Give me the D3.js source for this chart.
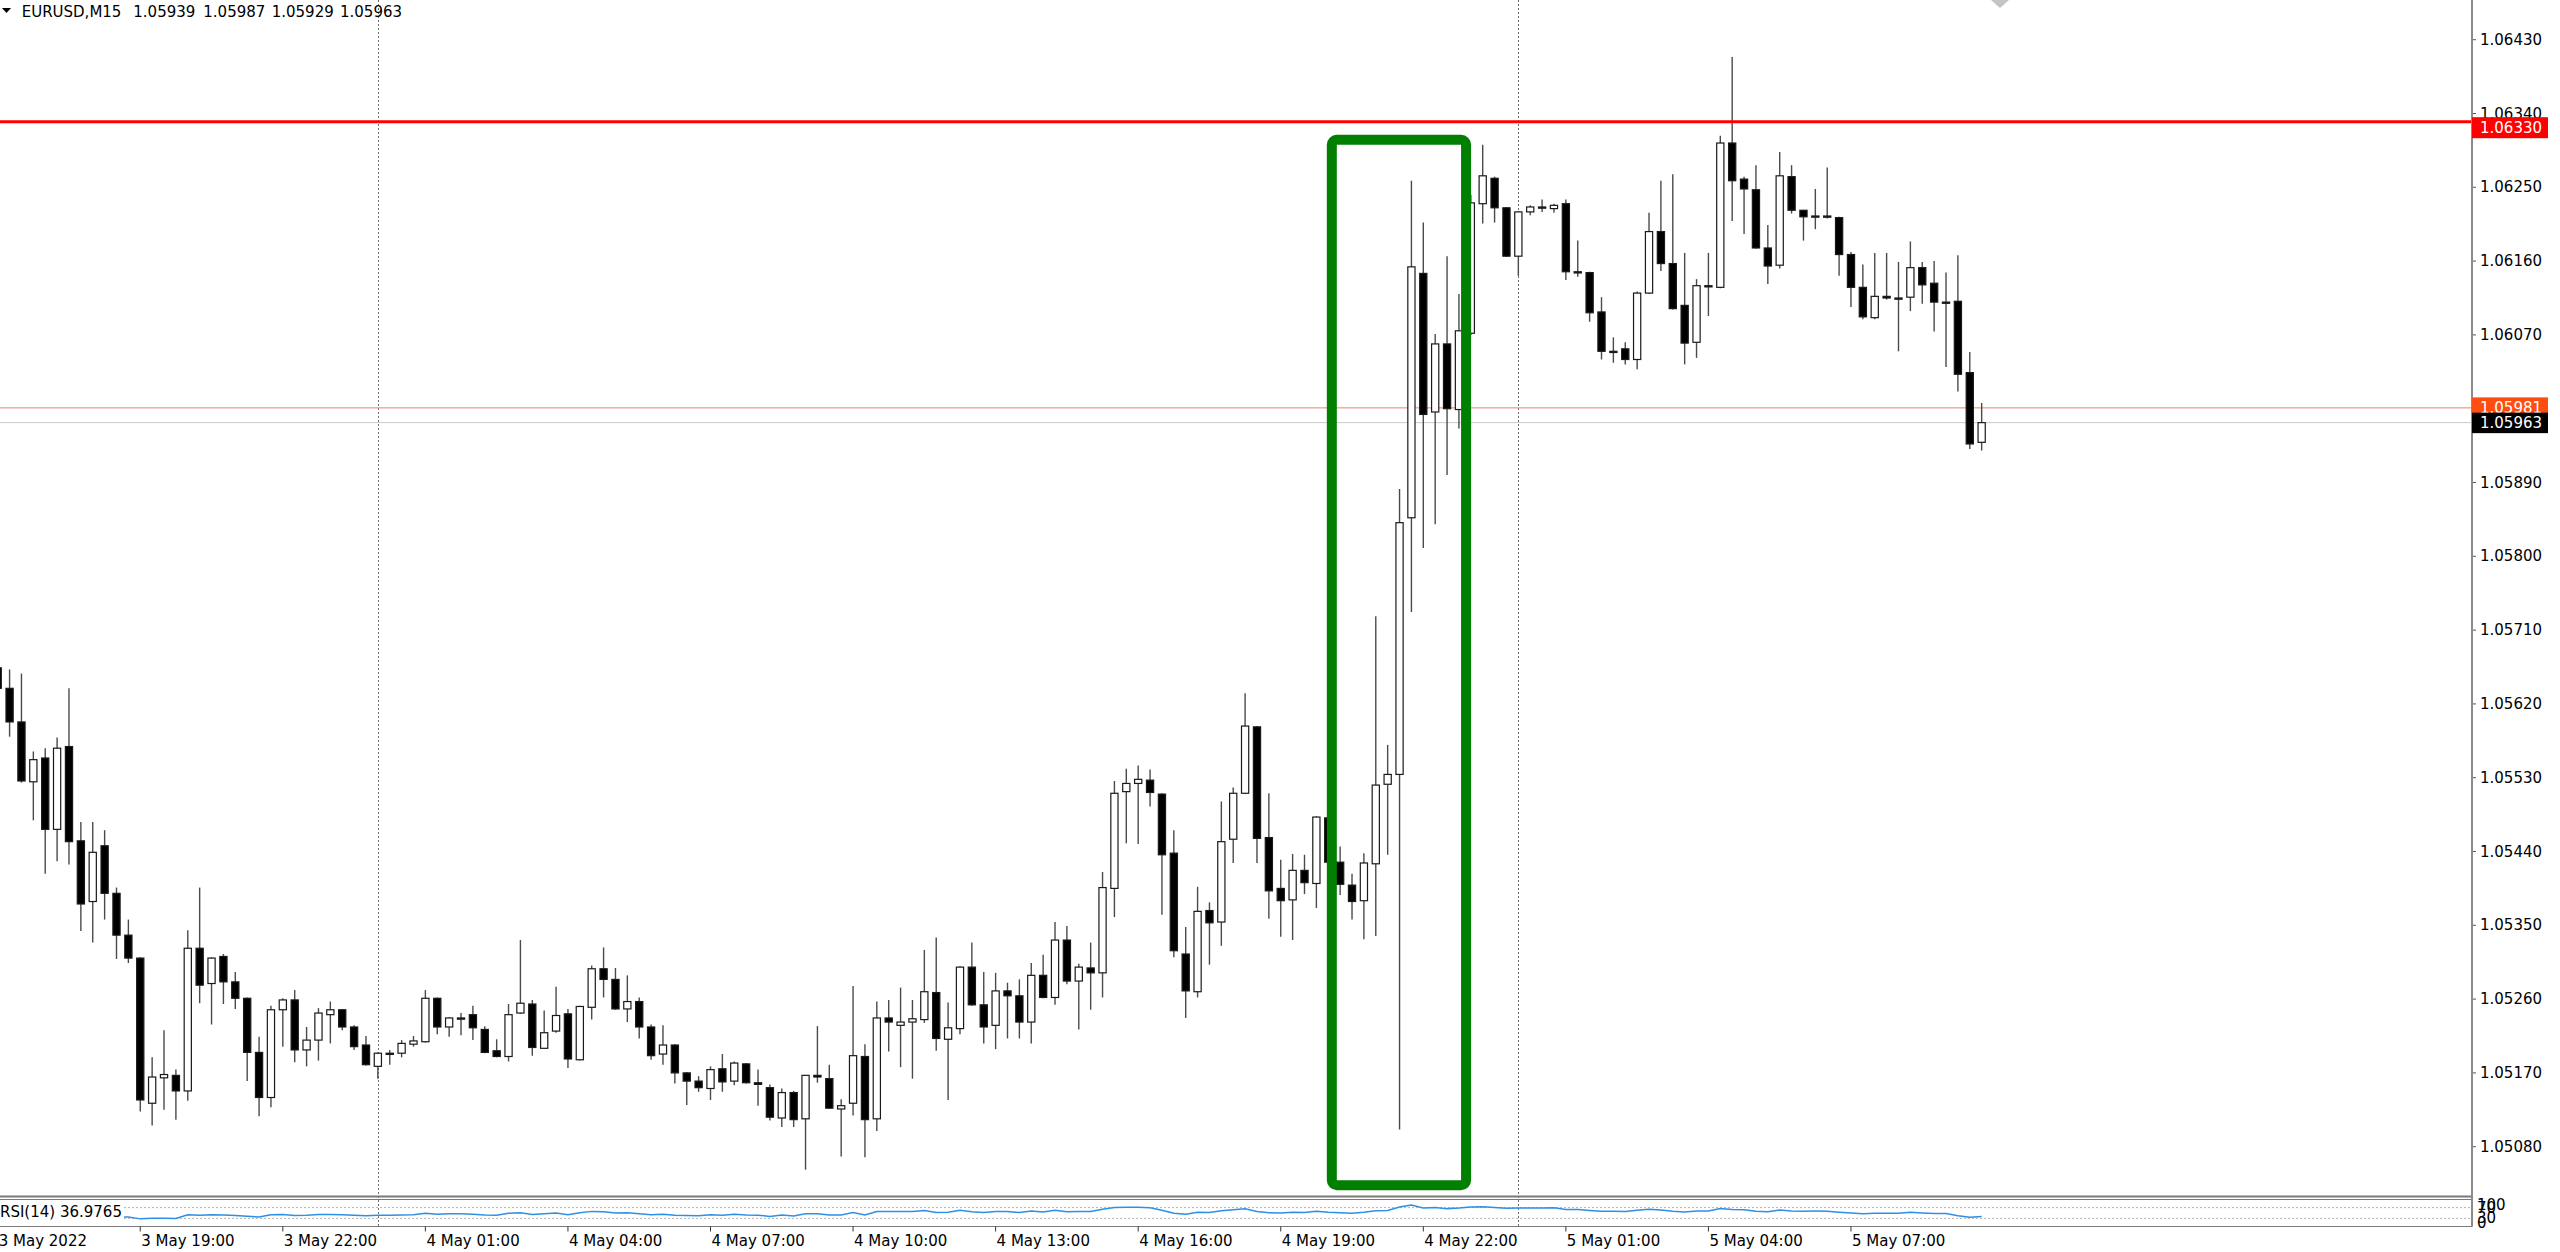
<!DOCTYPE html>
<html><head><meta charset="utf-8">
<script src="https://cdn.jsdelivr.net/npm/d3@7"></script>
<style>html,body{margin:0;padding:0;background:#fff;overflow:hidden}svg{display:block}</style>
</head><body>
<svg id="chart" width="2560" height="1252"></svg>
<script>
// ---------------- DATA (EURUSD M15, 3 May 16:00 -> 5 May 09:45) ----------------
const symbolTitle = "EURUSD,M15";
const lastBarValues = ["1.05939", "1.05987", "1.05929", "1.05963"];
const opens = [
1.05664,1.05639,1.05598,1.05525,1.05554,1.05467,1.05568,1.05453,1.05379,1.05447,
1.05389,1.05338,1.05310,1.05133,1.05164,1.05167,1.05148,1.05322,1.05279,1.05312,
1.05281,1.05261,1.05195,1.05140,1.05247,1.05259,1.05198,1.05210,1.05241,1.05247,
1.05226,1.05204,1.05178,1.05193,1.05194,1.05205,1.05208,1.05261,1.05226,1.05237,
1.05241,1.05223,1.05197,1.05190,1.05243,1.05254,1.05200,1.05221,1.05242,1.05186,
1.05250,1.05297,1.05284,1.05248,1.05257,1.05226,1.05193,1.05204,1.05170,1.05160,
1.05151,1.05175,1.05160,1.05181,1.05158,1.05152,1.05115,1.05146,1.05114,1.05167,
1.05163,1.05126,1.05133,1.05190,1.05114,1.05237,1.05228,1.05232,1.05235,1.05268,
1.05211,1.05224,1.05299,1.05253,1.05228,1.05270,1.05264,1.05232,1.05289,1.05262,
1.05332,1.05282,1.05298,1.05292,1.05395,1.05513,1.05523,1.05527,1.05510,1.05438,
1.05315,1.05269,1.05368,1.05354,1.05455,1.05511,1.05592,1.05457,1.05395,1.05381,
1.05417,1.05401,1.05481,1.05427,1.05399,1.05380,1.05425,1.05522,1.05534,1.05847,
1.06145,1.05976,1.06059,1.05979,1.06072,1.06230,1.06261,1.06225,1.06166,1.06220,
1.06226,1.06224,1.06230,1.06147,1.06146,1.06098,1.06050,1.06053,1.06040,1.06121,
1.06196,1.06157,1.06106,1.06061,1.06130,1.06128,1.06304,1.06260,1.06247,1.06176,
1.06155,1.06263,1.06222,1.06214,1.06215,1.06213,1.06168,1.06128,1.06091,1.06117,
1.06115,1.06116,1.06152,1.06133,1.06110,1.06111,1.06024,1.05939];
const highs = [
1.05666,1.05662,1.05657,1.05562,1.05566,1.05579,1.05639,1.05476,1.05476,1.05466,
1.05396,1.05357,1.05311,1.05189,1.05222,1.05174,1.05344,1.05396,1.05311,1.05315,
1.05293,1.05262,1.05214,1.05252,1.05261,1.05271,1.05226,1.05249,1.05257,1.05248,
1.05228,1.05215,1.05195,1.05198,1.05210,1.05215,1.05271,1.05262,1.05238,1.05243,
1.05252,1.05227,1.05211,1.05254,1.05332,1.05259,1.05246,1.05275,1.05248,1.05252,
1.05301,1.05323,1.05298,1.05289,1.05262,1.05229,1.05228,1.05205,1.05171,1.05166,
1.05178,1.05193,1.05184,1.05182,1.05174,1.05156,1.05151,1.05148,1.05167,1.05227,
1.05180,1.05138,1.05276,1.05205,1.05257,1.05259,1.05274,1.05259,1.05320,1.05335,
1.05256,1.05300,1.05329,1.05293,1.05292,1.05280,1.05284,1.05304,1.05314,1.05354,
1.05349,1.05303,1.05329,1.05415,1.05526,1.05541,1.05545,1.05540,1.05511,1.05466,
1.05348,1.05397,1.05378,1.05501,1.05518,1.05633,1.05593,1.05511,1.05430,1.05437,
1.05436,1.05483,1.05484,1.05446,1.05413,1.05438,1.05727,1.05570,1.05882,1.06258,
1.06207,1.06071,1.06166,1.06120,1.06241,1.06302,1.06263,1.06226,1.06221,1.06228,
1.06235,1.06230,1.06235,1.06185,1.06147,1.06116,1.06067,1.06061,1.06123,1.06219,
1.06258,1.06266,1.06170,1.06138,1.06170,1.06313,1.06409,1.06263,1.06277,1.06204,
1.06293,1.06277,1.06222,1.06248,1.06274,1.06214,1.06171,1.06156,1.06170,1.06170,
1.06159,1.06184,1.06159,1.06160,1.06146,1.06167,1.06049,1.05987];
const lows = [
1.05637,1.05580,1.05524,1.05478,1.05413,1.05428,1.05424,1.05343,1.05329,1.05357,
1.05309,1.05304,1.05123,1.05106,1.05125,1.05113,1.05136,1.05255,1.05229,1.05254,
1.05248,1.05160,1.05117,1.05128,1.05202,1.05183,1.05178,1.05185,1.05206,1.05222,
1.05198,1.05179,1.05163,1.05180,1.05189,1.05202,1.05207,1.05217,1.05214,1.05216,
1.05210,1.05194,1.05189,1.05184,1.05242,1.05191,1.05199,1.05219,1.05176,1.05185,
1.05235,1.05262,1.05247,1.05232,1.05212,1.05186,1.05180,1.05157,1.05131,1.05147,
1.05137,1.05147,1.05155,1.05157,1.05130,1.05112,1.05104,1.05104,1.05052,1.05158,
1.05126,1.05068,1.05118,1.05067,1.05099,1.05196,1.05177,1.05163,1.05231,1.05197,
1.05137,1.05217,1.05252,1.05206,1.05199,1.05212,1.05212,1.05206,1.05261,1.05253,
1.05278,1.05223,1.05247,1.05262,1.05360,1.05450,1.05449,1.05495,1.05363,1.05311,
1.05237,1.05262,1.05302,1.05325,1.05426,1.05510,1.05426,1.05358,1.05336,1.05332,
1.05388,1.05371,1.05417,1.05387,1.05357,1.05333,1.05337,1.05436,1.05101,1.05732,
1.05810,1.05839,1.05899,1.05956,1.06070,1.06206,1.06207,1.06165,1.06142,1.06216,
1.06220,1.06219,1.06137,1.06141,1.06086,1.06040,1.06036,1.06034,1.06028,1.06120,
1.06148,1.06101,1.06034,1.06042,1.06093,1.06127,1.06209,1.06193,1.06175,1.06132,
1.06151,1.06218,1.06185,1.06199,1.06212,1.06142,1.06104,1.06089,1.06089,1.06113,
1.06050,1.06099,1.06108,1.06074,1.06031,1.06001,1.05931,1.05929];
const closes = [
1.05639,1.05598,1.05526,1.05552,1.05467,1.05566,1.05452,1.05376,1.05439,1.05389,
1.05338,1.05310,1.05137,1.05165,1.05168,1.05148,1.05322,1.05277,1.05310,1.05281,
1.05261,1.05195,1.05140,1.05247,1.05259,1.05198,1.05210,1.05243,1.05247,1.05226,
1.05202,1.05180,1.05194,1.05194,1.05206,1.05209,1.05261,1.05226,1.05237,1.05237,
1.05225,1.05195,1.05190,1.05241,1.05255,1.05201,1.05219,1.05240,1.05187,1.05251,
1.05297,1.05284,1.05248,1.05257,1.05226,1.05191,1.05204,1.05170,1.05160,1.05152,
1.05174,1.05159,1.05182,1.05158,1.05156,1.05116,1.05146,1.05113,1.05167,1.05165,
1.05127,1.05130,1.05191,1.05113,1.05237,1.05232,1.05232,1.05236,1.05269,1.05212,
1.05225,1.05299,1.05253,1.05226,1.05270,1.05264,1.05232,1.05289,1.05262,1.05332,
1.05282,1.05299,1.05292,1.05396,1.05511,1.05523,1.05528,1.05512,1.05436,1.05319,
1.05270,1.05367,1.05353,1.05452,1.05511,1.05593,1.05456,1.05392,1.05380,1.05417,
1.05402,1.05482,1.05427,1.05400,1.05379,1.05426,1.05521,1.05534,1.05841,1.06153,
1.05973,1.06059,1.05980,1.06075,1.06231,1.06264,1.06225,1.06166,1.06220,1.06226,
1.06226,1.06228,1.06147,1.06146,1.06097,1.06050,1.06049,1.06040,1.06121,1.06196,
1.06157,1.06102,1.06060,1.06130,1.06129,1.06304,1.06258,1.06248,1.06176,1.06154,
1.06264,1.06222,1.06214,1.06215,1.06214,1.06168,1.06128,1.06092,1.06117,1.06115,
1.06115,1.06152,1.06131,1.06110,1.06110,1.06022,1.05937,1.05963];

// time axis: label text and the bar each label belongs to
const timeTickBars   = [0, 12, 24, 36, 48, 60, 72, 84, 96, 108, 120, 132, 144, 156];
const timeTickLabels = ["3 May 2022","3 May 19:00","3 May 22:00","4 May 01:00","4 May 04:00",
  "4 May 07:00","4 May 10:00","4 May 13:00","4 May 16:00","4 May 19:00","4 May 22:00",
  "5 May 01:00","5 May 04:00","5 May 07:00"];
const daySeparatorBars = [32, 128];          // 4 May 00:00, 5 May 00:00
const priceTicks = d3.range(0, 16).map(k => +(1.05080 + k * 0.0009).toFixed(5));
const resistanceLevel = 1.06330;             // red horizontal line
const askLevel = 1.05981;                    // orange ask line
const bidLevel = 1.05963;                    // grey bid line
const rsiPeriod = 14;
const rsiLabel = "RSI(14) 36.9765";
const rsiLevels = [30, 70];
const greenBox = {barFrom: 112.3, barTo: 123.6, priceTop: 1.06308, priceBottom: 1.05033};

// ---------------- LAYOUT ----------------
const plotRight = 2472, mainBottom = 1196, rsiTop = 1199.5, rsiBottom = 1226.5;
const font = '"DejaVu Sans", Verdana, "Liberation Sans", sans-serif';
const svg = d3.select('#chart');
svg.append('rect').attr('width', 2560).attr('height', 1252).attr('fill', '#fff');

const x = d3.scaleLinear().domain([0, 167]).range([-2.3, -2.3 + 167 * 11.88]);
const y = d3.scaleLinear().domain([1.05080, 1.06430]).range([1146.7, 39.7]);
const yR = d3.scaleLinear().domain([0, 100]).range([rsiBottom, rsiTop]);

const defs = svg.append('defs');
defs.append('clipPath').attr('id', 'mainClip').append('rect')
  .attr('x', 0).attr('y', 0).attr('width', plotRight).attr('height', mainBottom);
defs.append('clipPath').attr('id', 'rsiClip').append('rect')
  .attr('x', 0).attr('y', rsiTop).attr('width', plotRight).attr('height', rsiBottom - rsiTop);

// day separators (dotted, through both panes)
svg.append('g').selectAll('line').data(daySeparatorBars).join('line')
  .attr('x1', d => Math.round(x(d)) + 0.5).attr('x2', d => Math.round(x(d)) + 0.5)
  .attr('y1', 0).attr('y2', rsiBottom)
  .attr('stroke', '#6e6e6e').attr('stroke-width', 1).attr('stroke-dasharray', '2,2');

const main = svg.append('g').attr('clip-path', 'url(#mainClip)');

// ask / bid lines (behind candles)
main.append('line').attr('x1', 0).attr('x2', plotRight)
  .attr('y1', y(askLevel)).attr('y2', y(askLevel)).attr('stroke', '#e9865a').attr('stroke-width', 1);
main.append('line').attr('x1', 0).attr('x2', plotRight)
  .attr('y1', y(bidLevel)).attr('y2', y(bidLevel)).attr('stroke', '#c8c8c8').attr('stroke-width', 1);

// candles
const idx = d3.range(closes.length);
main.append('g').selectAll('line').data(idx).join('line')
  .attr('x1', i => x(i)).attr('x2', i => x(i))
  .attr('y1', i => y(highs[i])).attr('y2', i => y(lows[i]))
  .attr('stroke', '#4a4a4a').attr('stroke-width', 1.4);
main.append('g').selectAll('rect').data(idx).join('rect')
  .attr('x', i => x(i) - 3.6).attr('width', 7.2)
  .attr('y', i => y(Math.max(opens[i], closes[i])))
  .attr('height', i => Math.max(1.2, Math.abs(y(opens[i]) - y(closes[i]))))
  .attr('fill', i => closes[i] > opens[i] ? '#ffffff' : '#000000')
  .attr('stroke', '#1a1a1a').attr('stroke-width', 1.2);

// resistance line
main.append('line').attr('x1', 0).attr('x2', plotRight)
  .attr('y1', y(resistanceLevel)).attr('y2', y(resistanceLevel))
  .attr('stroke', '#ff0000').attr('stroke-width', 3);

// green highlight box
svg.append('rect')
  .attr('x', x(greenBox.barFrom)).attr('y', y(greenBox.priceTop))
  .attr('width', x(greenBox.barTo) - x(greenBox.barFrom))
  .attr('height', y(greenBox.priceBottom) - y(greenBox.priceTop))
  .attr('rx', 5).attr('fill', 'none').attr('stroke', '#007f00').attr('stroke-width', 10);

// pane frames
svg.append('line').attr('x1', 0).attr('x2', plotRight).attr('y1', mainBottom + 0.5).attr('y2', mainBottom + 0.5)
  .attr('stroke', '#7a7a7a').attr('stroke-width', 2);
svg.append('rect').attr('x', -1).attr('y', rsiTop).attr('width', plotRight + 1).attr('height', rsiBottom - rsiTop)
  .attr('fill', 'none').attr('stroke', '#7a7a7a').attr('stroke-width', 1);
svg.append('line').attr('x1', plotRight).attr('x2', plotRight).attr('y1', 0).attr('y2', rsiBottom)
  .attr('stroke', '#8a8a8a').attr('stroke-width', 2);

// RSI (Wilder) computed from closes
const changes = idx.slice(1).map(i => closes[i] - closes[i - 1]);
const seed = d3.mean(changes.map(Math.abs)) / 2;
let ag = seed, al = seed;
const rsiVals = [{i: 0, v: 50}];
changes.forEach((ch, k) => {
  ag = (ag * (rsiPeriod - 1) + Math.max(ch, 0)) / rsiPeriod;
  al = (al * (rsiPeriod - 1) + Math.max(-ch, 0)) / rsiPeriod;
  rsiVals.push({i: k + 1, v: al === 0 ? 100 : 100 - 100 / (1 + ag / al)});
});
const rsiG = svg.append('g').attr('clip-path', 'url(#rsiClip)');
rsiG.selectAll('line.lvl').data(rsiLevels).join('line')
  .attr('x1', 0).attr('x2', plotRight).attr('y1', d => yR(d)).attr('y2', d => yR(d))
  .attr('stroke', '#b4b4b4').attr('stroke-width', 1).attr('stroke-dasharray', '2,2');
rsiG.append('path').datum(rsiVals)
  .attr('d', d3.line().x(d => x(d.i)).y(d => yR(d.v)))
  .attr('fill', 'none').attr('stroke', '#2e8fe6').attr('stroke-width', 1.5);
const rsiText = svg.append('text').attr('x', 0).attr('y', 1212)
  .attr('font-family', font).attr('font-size', 15).attr('dominant-baseline', 'central')
  .attr('fill', '#000').text(rsiLabel);
const rb = rsiText.node().getBBox();
svg.insert('rect', () => rsiText.node()).attr('x', 0).attr('y', rsiTop + 1).attr('width', rb.width + 2)
  .attr('height', rsiBottom - rsiTop - 2).attr('fill', '#fff');
// RSI scale labels
[[100, 'hanging', rsiTop - 1], [70, 'central', yR(70)], [30, 'central', yR(30)], [0, 'auto', rsiBottom + 1]]
  .forEach(([v, base, yy]) => {
    svg.append('text').attr('x', 2477).attr('y', yy).attr('dominant-baseline', base)
      .attr('font-family', font).attr('font-size', 15).attr('fill', '#000').text(v);
  });

// price axis ticks + labels
const pa = svg.append('g');
pa.selectAll('line').data(priceTicks).join('line')
  .attr('x1', plotRight + 1).attr('x2', plotRight + 4).attr('y1', d => y(d)).attr('y2', d => y(d))
  .attr('stroke', '#555').attr('stroke-width', 1);
pa.selectAll('text').data(priceTicks).join('text')
  .attr('x', 2480).attr('y', d => y(d)).attr('dominant-baseline', 'central')
  .attr('font-family', font).attr('font-size', 15).attr('fill', '#000')
  .text(d => d.toFixed(5));

// price tags
function tag(level, top, h, fill, text) {
  svg.append('rect').attr('x', plotRight).attr('y', top).attr('width', 76).attr('height', h).attr('fill', fill);
  svg.append('text').attr('x', 2480).attr('y', top + h / 2 + 0.5).attr('dominant-baseline', 'central')
    .attr('font-family', font).attr('font-size', 15).attr('fill', '#fff').text(text);
}
tag(resistanceLevel, y(resistanceLevel) - 4.5, 21, '#ff0000', resistanceLevel.toFixed(5));
tag(askLevel, y(askLevel) - 10.5, 21, '#ff4d12', askLevel.toFixed(5));
tag(bidLevel, y(bidLevel) - 10, 20.5, '#000000', bidLevel.toFixed(5));

// time axis
const ta = svg.append('g');
ta.selectAll('line').data(timeTickBars.slice(1)).join('line')
  .attr('x1', d => x(d)).attr('x2', d => x(d)).attr('y1', rsiBottom).attr('y2', rsiBottom + 5)
  .attr('stroke', '#333').attr('stroke-width', 1);
ta.selectAll('text').data(timeTickBars).join('text')
  .attr('x', d => x(d) + 1).attr('y', 1241).attr('dominant-baseline', 'central')
  .attr('font-family', font).attr('font-size', 15).attr('fill', '#000')
  .text((d, k) => timeTickLabels[k]);

// header
svg.append('path').attr('d', 'M2,8 L11,8 L6.5,13 Z').attr('fill', '#000');
const headerX = [21.7, 133.3, 203.3, 271.7, 340];
[symbolTitle].concat(lastBarValues).forEach((t, k) => {
  svg.append('text').attr('x', headerX[k]).attr('y', 11.5).attr('dominant-baseline', 'central')
    .attr('font-family', font).attr('font-size', 15).attr('fill', '#000').text(t);
});

// chart shift marker at top
svg.append('path').attr('d', 'M1991,0 L2009,0 L2000,8 Z').attr('fill', '#c4c4c4');
</script>
</body></html>
